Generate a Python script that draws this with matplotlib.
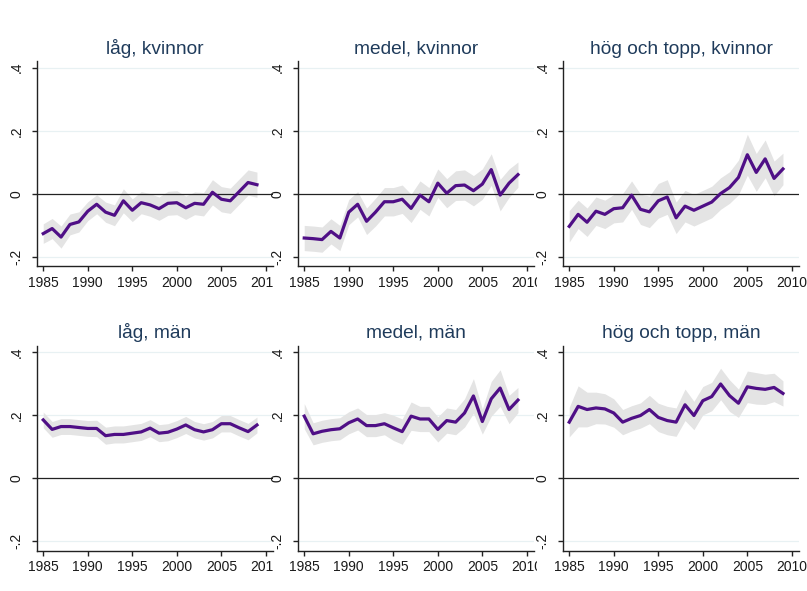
import matplotlib
matplotlib.use("Agg")
import matplotlib.pyplot as plt
from matplotlib.transforms import Bbox, TransformedBbox
import numpy as np

years = [1985, 1986, 1987, 1988, 1989, 1990, 1991, 1992, 1993, 1994, 1995, 1996,
         1997, 1998, 1999, 2000, 2001, 2002, 2003, 2004, 2005, 2006, 2007, 2008, 2009]

titles = ["låg, kvinnor", "medel, kvinnor", "hög och topp, kvinnor",
          "låg, män", "medel, män", "hög och topp, män"]

low_women = [-0.126, -0.110, -0.137, -0.097, -0.089, -0.055, -0.033, -0.058, -0.068, -0.022,
             -0.052, -0.028, -0.035, -0.047, -0.030, -0.028, -0.044, -0.030, -0.033, 0.005,
             -0.017, -0.022, 0.007, 0.036, 0.029]
mid_women = [-0.140, -0.142, -0.145, -0.119, -0.140, -0.058, -0.033, -0.087, -0.058, -0.025,
             -0.025, -0.017, -0.046, -0.004, -0.025, 0.034, 0.002, 0.026, 0.028, 0.010,
             0.031, 0.077, -0.004, 0.034, 0.061]
high_women = [-0.103, -0.065, -0.090, -0.055, -0.065, -0.047, -0.044, -0.004, -0.049, -0.057,
              -0.022, -0.010, -0.076, -0.039, -0.052, -0.039, -0.026, 0.001, 0.020, 0.052,
              0.124, 0.068, 0.111, 0.049, 0.079]
low_men = [0.184, 0.154, 0.163, 0.163, 0.160, 0.157, 0.157, 0.134, 0.138, 0.138,
           0.142, 0.146, 0.158, 0.142, 0.145, 0.155, 0.168, 0.153, 0.146, 0.153,
           0.172, 0.172, 0.159, 0.147, 0.168]
mid_men = [0.196, 0.140, 0.148, 0.153, 0.156, 0.175, 0.187, 0.166, 0.166, 0.172,
           0.159, 0.147, 0.196, 0.187, 0.187, 0.154, 0.182, 0.177, 0.206, 0.260,
           0.179, 0.251, 0.285, 0.217, 0.247]
high_men = [0.177, 0.227, 0.217, 0.222, 0.219, 0.206, 0.177, 0.189, 0.198, 0.217,
            0.192, 0.182, 0.177, 0.232, 0.198, 0.245, 0.258, 0.298, 0.261, 0.237,
            0.289, 0.284, 0.281, 0.287, 0.268]

# confidence-band half widths
hw_low_women = [0.031, 0.032, 0.035, 0.033, 0.032, 0.030, 0.030, 0.032, 0.033, 0.038,
                0.036, 0.035, 0.036, 0.037, 0.038, 0.038, 0.037, 0.036, 0.037, 0.040,
                0.040, 0.040, 0.040, 0.040, 0.040]
hw_mid_women = [0.040, 0.040, 0.040, 0.040, 0.040, 0.040, 0.040, 0.042, 0.044, 0.045,
                0.045, 0.045, 0.045, 0.045, 0.045, 0.045, 0.046, 0.047, 0.048, 0.048,
                0.048, 0.050, 0.050, 0.045, 0.040]
hw_high_women = [0.050, 0.045, 0.045, 0.045, 0.045, 0.045, 0.045, 0.045, 0.048, 0.050,
                 0.055, 0.055, 0.050, 0.050, 0.050, 0.050, 0.050, 0.050, 0.050, 0.055,
                 0.065, 0.060, 0.060, 0.055, 0.050]
hw_low_men = [0.025, 0.025, 0.025, 0.025, 0.025, 0.025, 0.026, 0.027, 0.027, 0.027,
              0.027, 0.027, 0.027, 0.027, 0.027, 0.027, 0.027, 0.026, 0.026, 0.026,
              0.026, 0.026, 0.026, 0.026, 0.025]
hw_mid_men = [0.040, 0.035, 0.035, 0.035, 0.035, 0.035, 0.035, 0.035, 0.035, 0.035,
              0.040, 0.040, 0.045, 0.040, 0.040, 0.040, 0.040, 0.040, 0.045, 0.055,
              0.040, 0.055, 0.058, 0.045, 0.040]
hw_high_men = [0.047, 0.065, 0.055, 0.050, 0.048, 0.045, 0.040, 0.040, 0.040, 0.045,
               0.045, 0.045, 0.045, 0.050, 0.045, 0.045, 0.045, 0.050, 0.050, 0.045,
               0.050, 0.050, 0.048, 0.045, 0.040]

series = [low_women, mid_women, high_women, low_men, mid_men, high_men]
halfw = [hw_low_women, hw_mid_women, hw_high_women, hw_low_men, hw_mid_men, hw_high_men]

xticks = [1985, 1990, 1995, 2000, 2005, 2010]
yticks = [-0.2, 0, 0.2, 0.4]
yticklabels = ["-.2", "0", ".2", ".4"]

plt.rcParams['font.family'] = ['Liberation Sans', 'DejaVu Sans']

W, H = 807, 591
fig = plt.figure(figsize=(W / 100, H / 100), dpi=100)
fig.patch.set_facecolor("white")

lefts_px = [37, 298, 563]
width_px = 236
bottoms_px = [266.4, 550.5]   # pixel y of axes bottom (from top)
height_px = 205
col_clip = [273, 537, 807]

line_color = "#4f0f86"
band_color = "#e4e4e4"
title_color = "#1f3b5b"
grid_color = "#e8f1f3"

for i in range(6):
    r, c = divmod(i, 3)
    ax = fig.add_axes([lefts_px[c] / W, (H - bottoms_px[r]) / H, width_px / W, height_px / H])
    y = np.array(series[i])
    h = np.array(halfw[i])
    ax.fill_between(years, y - h, y + h, color=band_color, lw=0, zorder=2)
    ax.plot(years, y, color=line_color, lw=2.3, zorder=3, solid_joinstyle="round")
    for gy in [-0.2, 0.2, 0.4]:
        ax.axhline(gy, color=grid_color, lw=0.9, zorder=1)
    ax.axhline(0, color="#222222", lw=0.9, zorder=2.5)
    ax.set_xlim(1984.3, 2010.8)
    ax.set_ylim(-0.23, 0.42)
    ax.set_xticks(xticks)
    ax.set_xticklabels([str(t) for t in xticks])
    ax.set_yticks(yticks)
    ax.set_yticklabels(yticklabels, rotation=90, va="center")
    for s in ["top", "right"]:
        ax.spines[s].set_visible(False)
    for s in ["left", "bottom"]:
        ax.spines[s].set_color("#222222")
        ax.spines[s].set_linewidth(1.0)
    ax.tick_params(axis="x", length=3.5, width=1.0, color="#222222", pad=3.5,
                   labelsize=10, labelcolor="#1a1a1a")
    ax.tick_params(axis="y", length=3.5, width=1.0, color="#222222", pad=6.0,
                   labelsize=10, labelcolor="#1a1a1a")
    ax.set_title(titles[i], fontsize=13.8, color=title_color, pad=5.5)
    ax.set_facecolor("white")
    # clip tick labels to the column region
    clip = TransformedBbox(Bbox.from_extents(0, 0, col_clip[c] / W, 1), fig.transFigure)
    for t in ax.xaxis.get_major_ticks():
        t.label1.set_clip_box(clip)
        t.label1.set_clip_on(True)

fig.savefig("out.png", dpi=100, facecolor="white")
